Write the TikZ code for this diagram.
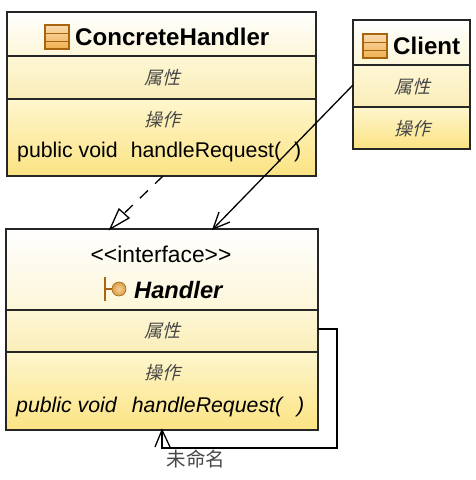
\documentclass[tikz,border=0pt]{standalone}
\usepackage{fontspec}
\setmainfont{Liberation Sans}[Ligatures=NoCommon]
\newfontfamily\cjk[FakeSlant=0.25]{Noto Sans CJK SC}
\newfontfamily\cjkup{Noto Sans CJK SC}
\definecolor{hA}{HTML}{FFFFFF}\definecolor{hB}{HTML}{FDF6D8}
\definecolor{aA}{HTML}{FEF7D6}\definecolor{aB}{HTML}{F9EDB8}
\definecolor{oA}{HTML}{FEF6CE}\definecolor{oB}{HTML}{FBE382}
\definecolor{ic}{HTML}{F0B050}\definecolor{icd}{HTML}{A8650F}
\tikzset{
 x=1pt,y=-1pt,
 part/.style={draw=black!85,line width=1.3pt,anchor=north west,inner sep=0pt,outer sep=0pt},
 head/.style={part,top color=hA,bottom color=hB},
 attr/.style={part,top color=aA,bottom color=aB},
 oper/.style={part,top color=oA,bottom color=oB},
 cjklabel/.style={font=\cjk\fontsize{18}{20}\selectfont,text=black!72,inner sep=0pt},
 title/.style={font=\bfseries\fontsize{24.1}{27}\selectfont,inner sep=0pt},
 body/.style={font=\fontsize{21.3}{24}\selectfont,inner sep=0pt},
 link/.style={draw=black,line width=1.3pt},
}
\newcommand{\classicon}[1]{%
 \begin{scope}[shift={(#1)}]
  \fill[top color=ic!45,bottom color=ic] (0,0) rectangle (24,24);
  \draw[icd,line width=1.3pt] (0,0) rectangle (24,24);
  \draw[icd,line width=1pt] (0,8.5) -- (24,8.5) (0,16) -- (24,16);
 \end{scope}}
\begin{document}
\begin{tikzpicture}
\useasboundingbox (0,0) rectangle (475,480);
% ConcreteHandler
\node[head,minimum width=309pt,minimum height=44pt] (chH) at (7,12) {};
\node[attr,minimum width=309pt,minimum height=43pt] (chA) at (7,56) {};
\node[oper,minimum width=309pt,minimum height=77pt] (chO) at (7,99) {};
\classicon{45,25}
\node[title,anchor=west] (chT) at (75,37) {ConcreteHandler};
\node[cjklabel] (chAL) at (162,78) {属性};
\node[cjklabel] (chOL) at (162,120) {操作};
\node[body,anchor=west] (chM) at (17,152) {public void\hspace{13pt}handleRequest(\hspace{13pt})};
% Client
\node[head,minimum width=117pt,minimum height=45pt] (clH) at (353,20) {};
\node[attr,minimum width=117pt,minimum height=42pt] (clA) at (353,65) {};
\node[oper,minimum width=117pt,minimum height=42pt] (clO) at (353,107) {};
\classicon{363,34}
\node[title,anchor=west] (clT) at (393,46) {Client};
\node[cjklabel] (clAL) at (412,87) {属性};
\node[cjklabel] (clOL) at (412,129) {操作};
% Handler
\node[head,minimum width=312pt,minimum height=81pt] (hH) at (6,229) {};
\node[attr,minimum width=312pt,minimum height=42pt] (hA) at (6,310) {};
\node[oper,minimum width=312pt,minimum height=78pt] (hO) at (6,352) {};
\node[font=\fontsize{22.8}{26}\selectfont,inner sep=0pt] (hS) at (161,254) {<{}<interface>{}>};
\draw[icd,line width=1.6pt] (105,277) -- (105,301) (105,289) -- (112,289);
\shade[inner color=ic!60,outer color=ic!90!black,draw=icd,line width=.6pt] (119,289) circle (7pt);
\node[font=\bfseries\itshape\fontsize{23.7}{27}\selectfont,inner sep=0pt,anchor=west] (hT) at (134,290) {Handler};
\node[cjklabel] (hAL) at (162,331) {属性};
\node[cjklabel] (hOL) at (162,373) {操作};
\node[font=\itshape\fontsize{21.3}{24}\selectfont,inner sep=0pt,anchor=west] (hM) at (16,407) {public void\hspace{15pt}handleRequest(\hspace{15pt})};
\node[font=\cjkup\fontsize{19.5}{22}\selectfont,text=black!72,inner sep=0pt] (nm) at (196,459) {未命名};
% Connectors
\coordinate (dashS) at (chO.south -| 163,0);
\coordinate (dashE) at (hH.north -| 110,0);
\coordinate (assS) at (353,85);
\coordinate (assE) at (hH.north -| 213,0);
\coordinate (selfS) at (hA.east |- 0,329);
\coordinate (selfE) at (hO.south -| 162,0);
\coordinate (triB) at (124,213.5);
\draw[link,dash pattern=on 11pt off 10pt] (dashS) -- (triB);
\draw[link] (119,209) -- (dashE) -- (129,218) -- cycle;
\draw[link] (assS) -- (assE);
\draw[link] (219,212) -- (assE) -- (230,222);
\draw[link] (selfS) -- (337,329) -- (337,448) -- (162,448) -- (selfE);
\draw[link] (155,447) -- (selfE) -- (170,447);
\end{tikzpicture}
\end{document}
